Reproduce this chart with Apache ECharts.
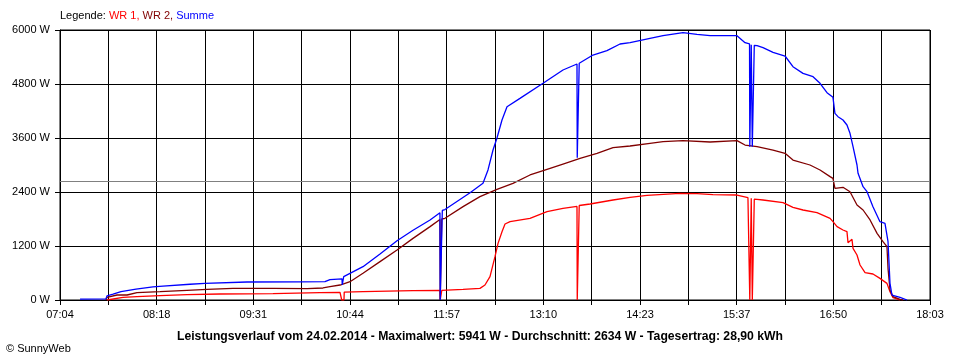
<!DOCTYPE html>
<html><head><meta charset="utf-8">
<script src="https://cdn.jsdelivr.net/npm/echarts@6/dist/echarts.min.js"></script>
<style>html,body{margin:0;padding:0;background:#fff}#c{width:960px;height:360px}</style>
</head><body><div id="c"></div>
<script>
// x values: minutes after 07:04
const TICK_LABELS = ['07:04','08:18','09:31','10:44','11:57','13:10','14:23','15:37','16:50','18:03'];
const X_SPAN_MIN = 659;
const Y_TICKS_W = [0, 1200, 2400, 3600, 4800, 6000];
const AVERAGE_W = 2634;

const wr1Time = [35.6,36.4,47.7,58.3,75.8,96.2,121.2,161.3,196.9,212.1,213.2,213.4,215.1,215.3,229.5,267.4,287.8,288.0,289.0,289.2,305.3,318.1,321.9,325.7,329.5,331.8,334.8,337.1,340.9,356.0,368.9,381.0,391.6,391.8,393.1,393.3,401.5,418.9,431.8,444.6,469.6,482.5,494.6,512.8,521.1,522.3,522.5,523.4,523.6,524.2,524.4,525.7,525.9,528.0,532.5,547.7,555.2,562.8,573.4,583.3,585.5,588.6,593.1,596.1,596.9,599.9,600.7,603.7,606.0,609.8,615.8,621.1,626.4,628.7,631.0,634.8,636.3];
const wr1Watt = [0,20,60,74,96,119,133,141,163,170,170,0,0,175,185,207,215,0,0,215,237,259,333,519,963,1259,1518,1689,1741,1815,1963,2037,2080,0,0,2100,2133,2222,2281,2326,2370,2363,2341,2333,2274,2270,0,0,2260,2260,0,0,2240,2237,2222,2163,2059,2000,1941,1815,1741,1630,1556,1519,1274,1348,1148,1000,778,607,578,481,370,185,52,15,0];

const wr2Time = [34.8,35.6,43.2,50.8,58.3,75.8,96.2,111.4,131.0,161.3,187.1,199.2,204.5,212.1,219.7,229.5,242.4,255.3,267.4,280.3,287.8,288.0,289.0,289.2,291.6,305.3,318.1,331.0,343.1,356.0,368.9,381.0,393.9,406.8,418.9,431.8,446.9,456.8,471.9,492.4,512.8,518.9,528.0,540.1,549.2,555.2,568.1,575.7,583.3,585.5,587.0,593.1,598.4,603.7,608.3,613.6,618.9,623.4,626.4,627.2,628.7,631.0,636.3,638.5];
const wr2Watt = [0,60,111,111,163,185,215,237,259,259,252,267,296,333,407,593,852,1111,1370,1630,1790,0,0,1800,1815,2074,2296,2459,2593,2778,2904,3022,3148,3259,3385,3422,3481,3518,3541,3511,3541,3444,3407,3333,3259,3111,3000,2889,2741,2704,2481,2504,2407,2111,2000,1778,1481,1296,1185,704,222,74,15,0];

const sumTime = [15.2,34.8,35.6,40.2,46.2,57.6,70.4,78.0,98.5,109.8,141.7,181.8,200.7,204.5,213.6,213.8,214.7,214.9,229.5,242.4,255.3,267.4,280.3,287.8,288.0,289.4,289.6,291.6,310.6,320.4,324.2,328.0,331.0,334.8,338.6,348.4,365.9,381.0,391.6,391.8,393.1,393.3,403.7,414.3,424.2,431.8,446.9,456.8,471.9,482.5,492.4,512.8,518.9,522.3,522.5,523.4,523.6,524.2,524.4,525.7,525.9,528.0,532.5,540.1,549.2,555.2,562.8,570.4,575.7,581.0,585.5,587.0,589.3,593.1,596.1,598.4,600.7,603.7,604.5,608.3,611.3,615.8,621.1,624.9,627.2,628.7,630.2,636.3,641.6];
const sumWatt = [20,25,90,130,185,240,290,310,350,370,400,405,410,455,470,335,335,520,740,1020,1318,1550,1778,1940,0,0,1990,2010,2385,2593,2890,3333,3600,4000,4296,4481,4815,5111,5244,3160,3160,5260,5444,5540,5689,5718,5815,5874,5941,5904,5874,5874,5718,5690,3407,3407,5670,5670,3407,3407,5660,5652,5607,5504,5422,5185,5037,4963,4815,4607,4504,4148,4074,4000,3889,3704,3407,3000,2815,2518,2407,2074,1740,1704,1296,370,111,60,0];

const pairs = (t, w) => t.map((x, i) => [x, w[i]]);
const FONT = 'Liberation Sans';
const xInterval = X_SPAN_MIN / 18;

const chart = echarts.init(document.getElementById('c'), null, {renderer: 'canvas'});
chart.setOption({
  animation: false,
  backgroundColor: '#fff',
  grid: {left: 60, right: 30, top: 30, bottom: 60, show: true, borderColor: '#000', borderWidth: 1, backgroundColor: 'transparent'},
  xAxis: {
    type: 'value', min: 0, max: X_SPAN_MIN, interval: xInterval,
    axisLine: {show: true, lineStyle: {color: '#000', width: 1}},
    axisTick: {show: true, length: 5, lineStyle: {color: '#000'}},
    splitLine: {show: true, lineStyle: {color: '#000', width: 1}},
    axisLabel: {
      margin: 9, color: '#000', fontFamily: FONT, fontSize: 11,
      formatter: v => { const k = Math.round(v / xInterval); return k % 2 === 0 ? (TICK_LABELS[k / 2] || '') : ''; }
    }
  },
  yAxis: {
    type: 'value', min: Y_TICKS_W[0], max: Y_TICKS_W[Y_TICKS_W.length - 1], interval: Y_TICKS_W[1] - Y_TICKS_W[0],
    axisLine: {show: true, lineStyle: {color: '#000', width: 1}},
    axisTick: {show: true, length: 5, lineStyle: {color: '#000'}},
    splitLine: {show: true, lineStyle: {color: '#000', width: 1}},
    axisLabel: {margin: 10, color: '#000', fontFamily: FONT, fontSize: 11, formatter: v => v + ' W'}
  },
  series: [
    {name: 'WR 1', type: 'line', data: pairs(wr1Time, wr1Watt), showSymbol: false, symbol: 'none',
     lineStyle: {color: '#ff0000', width: 1.3}, z: 3,
     markLine: {silent: true, symbol: 'none', label: {show: false},
       lineStyle: {color: '#808080', width: 1, type: 'solid'}, data: [{yAxis: AVERAGE_W}]}},
    {name: 'WR 2', type: 'line', data: pairs(wr2Time, wr2Watt), showSymbol: false, symbol: 'none',
     lineStyle: {color: '#800000', width: 1.3}, z: 4},
    {name: 'Summe', type: 'line', data: pairs(sumTime, sumWatt), showSymbol: false, symbol: 'none',
     lineStyle: {color: '#0000ff', width: 1.3}, z: 5}
  ],
  graphic: [
    {type: 'text', left: 60, top: 10, style: {
      text: '{k|Legende: }{a|WR 1, }{b|WR 2, }{c|Summe}',
      rich: {
        k: {fill: '#000', fontFamily: FONT, fontSize: 11},
        a: {fill: '#ff0000', fontFamily: FONT, fontSize: 11},
        b: {fill: '#800000', fontFamily: FONT, fontSize: 11},
        c: {fill: '#0000ff', fontFamily: FONT, fontSize: 11}
      }}},
    {type: 'text', x: 480, y: 337, style: {
      text: 'Leistungsverlauf vom 24.02.2014 - Maximalwert: 5941 W - Durchschnitt: 2634 W - Tagesertrag: 28,90 kWh',
      fill: '#000', fontFamily: FONT, fontSize: 12.2, fontWeight: 'bold', align: 'center', verticalAlign: 'middle'}},
    {type: 'text', x: 6, y: 349, style: {
      text: '© SunnyWeb', fill: '#000', fontFamily: FONT, fontSize: 11, align: 'left', verticalAlign: 'middle'}}
  ]
});
</script></body></html>
